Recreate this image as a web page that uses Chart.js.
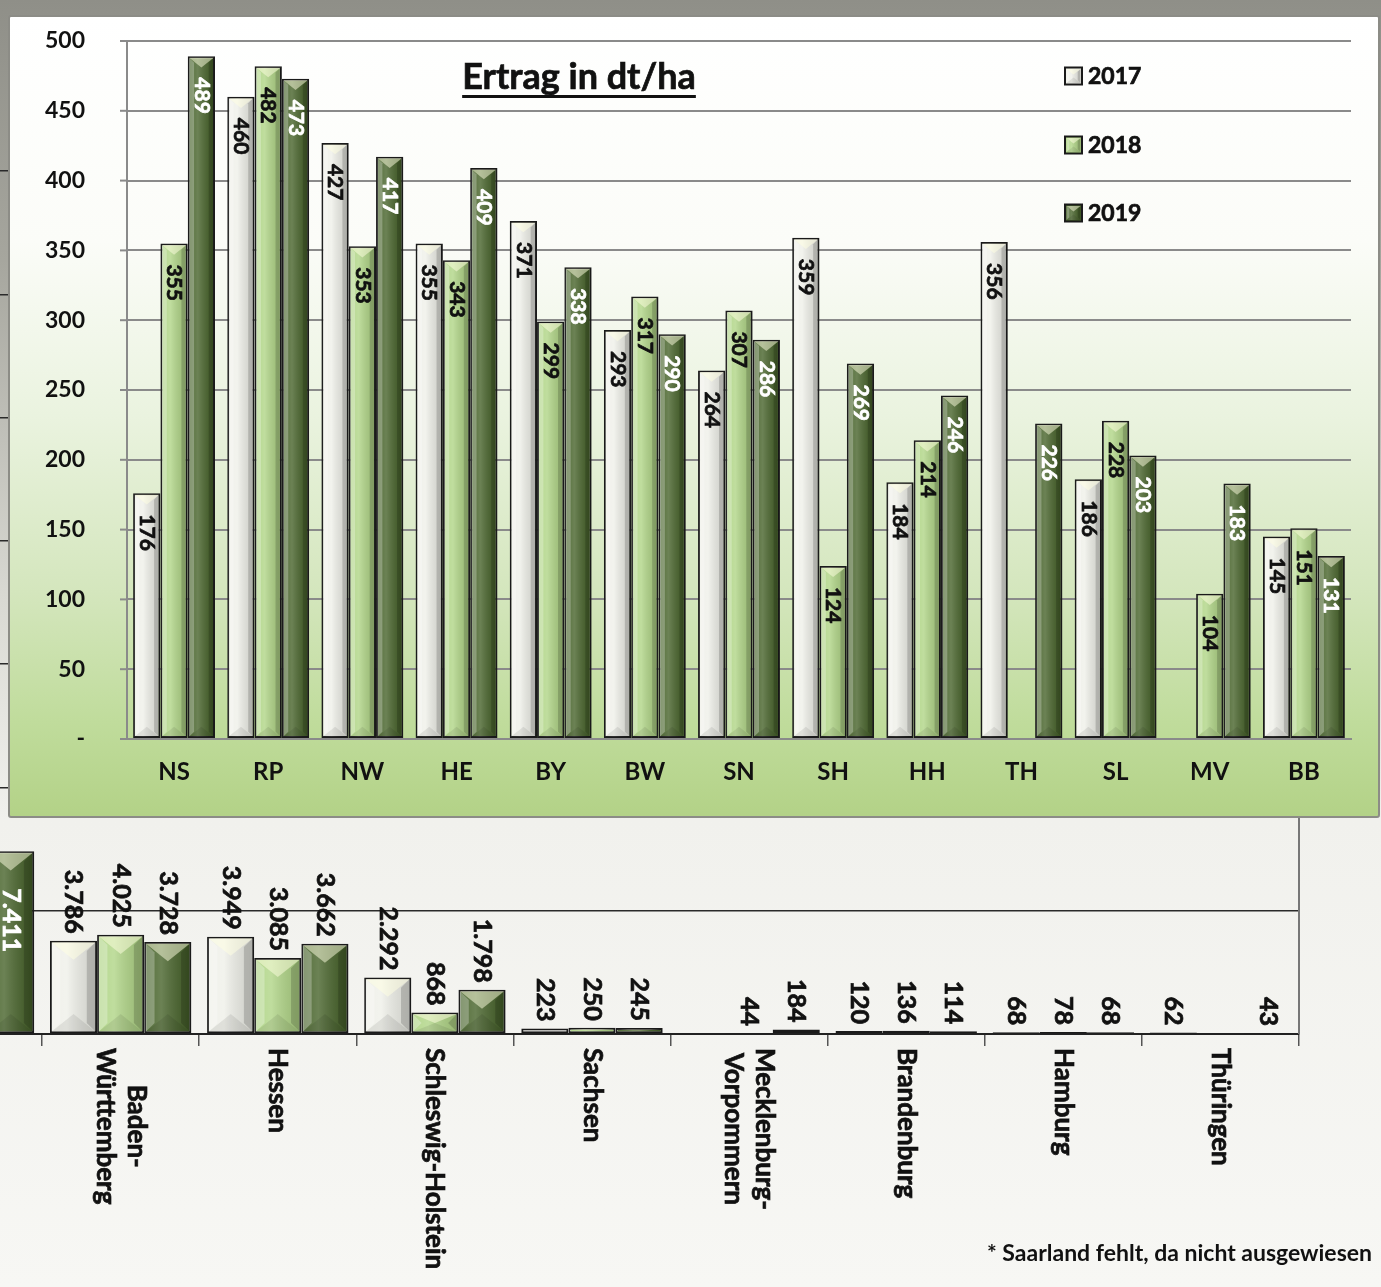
<!DOCTYPE html>
<html>
<head>
<meta charset="utf-8">
<script src="https://cdn.jsdelivr.net/npm/chart.js@4.4.1/dist/chart.umd.min.js"></script>
<style>
  html, body { margin: 0; padding: 0; }
  body {
    width: 1381px; height: 1287px; overflow: hidden; position: relative;
    font-family: Lato, sans-serif;
    background: linear-gradient(to bottom, #8f8f88 0px, #a6a69e 260px, #d9d9d3 600px, #f1f1ed 820px, #f7f7f4 1287px);
  }
  #backWrap { position: absolute; left: -115px; top: 0; width: 1416px; height: 1287px; }
  #mainWrap {
    position: absolute; left: 8px; top: 15px; width: 1372px; height: 803px;
    box-sizing: border-box; border: 2px solid #8c8c86; border-radius: 3px;
    background: linear-gradient(to bottom, #ffffff 0%, #fbfcf8 28%, #eaf3df 50%, #d4e6bd 72%, #c0dc9c 88%, #b3d287 100%);
  }
  #note {
    position: absolute; right: 9px; top: 1238px; line-height: 30px;
    font: bold 23px Lato, sans-serif; color: #111; white-space: nowrap;
  }
</style>
</head>
<body>
<div id="backWrap"><canvas id="back" width="1416" height="1287"></canvas></div>
<div id="mainWrap"><canvas id="main" width="1368" height="799"></canvas></div>
<div id="note">* Saarland fehlt, da nicht ausgewiesen</div>
<script>
// Ertrag in dt/ha (main chart)
var categories = ['NS', 'RP', 'NW', 'HE', 'BY', 'BW', 'SN', 'SH', 'HH', 'TH', 'SL', 'MV', 'BB'];
var years = ['2017', '2018', '2019'];
var ertrag2017 = [176, 460, 427, 355, 371, 293, 264, 359, 184, 356, 186, null, 145];
var ertrag2018 = [355, 482, 353, 343, 299, 317, 307, 124, 214, null, 228, 104, 151];
var ertrag2019 = [489, 473, 417, 409, 338, 290, 286, 269, 246, 226, 203, 183, 131];
var yMax = 500;
var yStep = 50;

// partly hidden chart behind (first category is cut off at the left edge)
var backCategories = ['', ['Baden-', 'Württemberg'], 'Hessen', 'Schleswig-Holstein', 'Sachsen',
  ['Mecklenburg-', 'Vorpommern'], 'Brandenburg', 'Hamburg', 'Thüringen'];
var back2017 = [null, 3786, 3949, 2292, 223, null, 120, 68, 62];
var back2018 = [null, 4025, 3085, 868, 250, 44, 136, 78, null];
var back2019 = [7411, 3728, 3662, 1798, 245, 184, 114, 68, 43];
var backMax = 35000;
var backStep = 5000;

var barColors = ['#eff0e9', '#b0d586', '#47632a'];
var labelColors = ['#111', '#111', '#fff'];
var FONT = 'Lato, sans-serif';

function poly(ctx, pts, fill) {
  ctx.beginPath();
  ctx.moveTo(pts[0][0], pts[0][1]);
  for (var i = 1; i < pts.length; i++) ctx.lineTo(pts[i][0], pts[i][1]);
  ctx.closePath();
  ctx.fillStyle = fill;
  ctx.fill();
}

// bevel look of the bars
function bevel(ctx, x0, x1, y0, y1) {
  var w = x1 - x0, h = y1 - y0;
  if (w <= 2 || h <= 2) return;
  var cx = (x0 + x1) / 2;
  var s = Math.min(w * 0.2, h / 2);
  var t = Math.min(w * 0.4, h / 2);
  var g = ctx.createLinearGradient(x0, 0, x1, 0);
  g.addColorStop(0, 'rgba(255,255,255,0.08)');
  g.addColorStop(0.35, 'rgba(255,255,255,0.2)');
  g.addColorStop(1, 'rgba(0,0,0,0.13)');
  ctx.fillStyle = g;
  ctx.fillRect(x0, y0, w, h);
  poly(ctx, [[x0, y0], [x0 + s, y0 + s], [x0 + s, y1 - s], [x0, y1]], 'rgba(255,255,255,0.28)');
  poly(ctx, [[x1, y0], [x1 - s, y0 + s], [x1 - s, y1 - s], [x1, y1]], 'rgba(0,0,0,0.16)');
  poly(ctx, [[x0, y0], [x1, y0], [cx, y0 + t]], 'rgba(255,255,225,0.5)');
  poly(ctx, [[x0, y1], [x1, y1], [cx, y1 - t]], 'rgba(0,0,0,0.08)');
}

function barBox(bar) {
  var p = bar.getProps(['x', 'y', 'base', 'width'], true);
  return {
    x: p.x,
    x0: p.x - p.width / 2 + 1.5, x1: p.x + p.width / 2 - 1.5,
    y0: Math.min(p.y, p.base) + 1.5, y1: Math.max(p.y, p.base) - 1.5,
    top: p.y
  };
}

function deNum(v) {
  return String(v).replace(/\B(?=(\d{3})+(?!\d))/g, '.');
}

// bold text, slightly heavier
function heavyText(ctx, txt, x, y, color) {
  ctx.fillStyle = color;
  ctx.strokeStyle = color;
  ctx.lineWidth = 0.7;
  ctx.fillText(txt, x, y);
  ctx.strokeText(txt, x, y);
}

var mainDecor = {
  id: 'mainDecor',
  afterDatasetsDraw: function(chart) {
    var ctx = chart.ctx;
    ctx.save();
    chart.data.datasets.forEach(function(ds, di) {
      chart.getDatasetMeta(di).data.forEach(function(bar, i) {
        if (ds.data[i] == null) return;
        var b = barBox(bar);
        bevel(ctx, b.x0, b.x1, b.y0, b.y1);
      });
    });
    ctx.font = 'bold 21px ' + FONT;
    ctx.textAlign = 'left';
    ctx.textBaseline = 'middle';
    chart.data.datasets.forEach(function(ds, di) {
      chart.getDatasetMeta(di).data.forEach(function(bar, i) {
        if (ds.data[i] == null) return;
        var b = barBox(bar);
        ctx.save();
        ctx.translate(b.x, b.top + 21);
        ctx.rotate(Math.PI / 2);
        heavyText(ctx, String(ds.data[i]), 0, 0, labelColors[di]);
        ctx.restore();
      });
    });
    ctx.restore();
  },
  afterDraw: function(chart) {
    var ctx = chart.ctx, ys = chart.scales.y, area = chart.chartArea;
    ctx.save();
    // small tick marks left of the value axis
    ctx.strokeStyle = '#8a8a8a';
    ctx.lineWidth = 2;
    ys.ticks.forEach(function(t) {
      var py = ys.getPixelForValue(t.value);
      ctx.beginPath();
      ctx.moveTo(area.left - 7, py);
      ctx.lineTo(area.left, py);
      ctx.stroke();
    });
    // title
    ctx.font = 'bold 36px ' + FONT;
    ctx.textAlign = 'center';
    ctx.textBaseline = 'alphabetic';
    var title = 'Ertrag in dt/ha';
    var tx = 569, ty = 72;
    heavyText(ctx, title, tx, ty, '#111');
    var tw = ctx.measureText(title).width;
    ctx.fillRect(tx - tw / 2, ty + 6, tw, 3);
    // legend
    ctx.font = 'bold 23px ' + FONT;
    ctx.textAlign = 'left';
    ctx.textBaseline = 'middle';
    var ly = [59, 128, 196];
    chart.data.datasets.forEach(function(ds, di) {
      var mx = 1055, my = ly[di] - 8.5;
      ctx.fillStyle = ds.backgroundColor;
      ctx.fillRect(mx, my, 17, 17);
      bevel(ctx, mx + 1.5, mx + 15.5, my + 1.5, my + 15.5);
      ctx.lineWidth = 2;
      ctx.strokeStyle = '#1a1a1a';
      ctx.strokeRect(mx, my, 17, 17);
      heavyText(ctx, ds.label, 1078, ly[di] + 1, '#111');
    });
    ctx.restore();
  }
};

var backDecor = {
  id: 'backDecor',
  afterDatasetsDraw: function(chart) {
    var ctx = chart.ctx;
    ctx.save();
    chart.data.datasets.forEach(function(ds, di) {
      chart.getDatasetMeta(di).data.forEach(function(bar, i) {
        if (ds.data[i] == null) return;
        var b = barBox(bar);
        bevel(ctx, b.x0, b.x1, b.y0, b.y1);
      });
    });
    ctx.font = 'bold 25px ' + FONT;
    ctx.textBaseline = 'middle';
    chart.data.datasets.forEach(function(ds, di) {
      chart.getDatasetMeta(di).data.forEach(function(bar, i) {
        var v = ds.data[i];
        if (v == null) return;
        var b = barBox(bar);
        ctx.save();
        var col;
        if (v > 6000) {
          ctx.translate(b.x, b.top + 37);
          ctx.rotate(Math.PI / 2);
          ctx.textAlign = 'left';
          col = '#fff';
        } else {
          ctx.translate(b.x, b.top - 7);
          ctx.rotate(Math.PI / 2);
          ctx.textAlign = 'right';
          col = '#111';
        }
        heavyText(ctx, deNum(v), 0, 0, col);
        ctx.restore();
      });
    });
    ctx.restore();
  },
  afterDraw: function(chart) {
    var ctx = chart.ctx, area = chart.chartArea, xs = chart.scales.x;
    ctx.save();
    ctx.strokeStyle = '#777';
    ctx.lineWidth = 2;
    ctx.beginPath();
    ctx.moveTo(area.right, area.top);
    ctx.lineTo(area.right, area.bottom);
    ctx.stroke();
    // category labels, rotated clockwise
    ctx.font = 'bold 26px ' + FONT;
    ctx.textAlign = 'center';
    ctx.textBaseline = 'middle';
    chart.data.labels.forEach(function(lab, i) {
      var lines = Array.isArray(lab) ? lab : [lab];
      var maxW = 0;
      lines.forEach(function(l) { maxW = Math.max(maxW, ctx.measureText(l).width); });
      ctx.save();
      ctx.translate(xs.getPixelForValue(i), 1048);
      ctx.rotate(Math.PI / 2);
      lines.forEach(function(l, k) {
        heavyText(ctx, l, maxW / 2, (k - (lines.length - 1) / 2) * 31, '#111');
      });
      ctx.restore();
    });
    ctx.restore();
  }
};

function makeSets(a, b, c) {
  return [a, b, c].map(function(d, i) {
    return {
      label: years[i],
      data: d,
      backgroundColor: barColors[i],
      borderColor: '#1a1a1a',
      borderWidth: 2,
      borderSkipped: false
    };
  });
}

window.onload = function() {
  // chart in the back
  new Chart(document.getElementById('back').getContext('2d'), {
    type: 'bar',
    data: { labels: backCategories, datasets: makeSets(back2017, back2018, back2019) },
    options: {
      responsive: false,
      animation: false,
      events: [],
      layout: { padding: { top: 171, right: 2, left: 0, bottom: 0 } },
      datasets: { bar: { categoryPercentage: 0.9, barPercentage: 1.0 } },
      plugins: { legend: { display: false }, tooltip: { enabled: false } },
      scales: {
        x: {
          ticks: { display: false },
          grid: { drawOnChartArea: false, drawTicks: true, tickLength: 12, color: '#555', lineWidth: 1.5 },
          border: { color: '#222', width: 2 },
          afterFit: function(s) { s.height = 253; }
        },
        y: {
          min: 0, max: backMax,
          ticks: { display: false, stepSize: backStep },
          grid: { color: '#2a2a2a', lineWidth: 1.5, drawTicks: false },
          border: { display: false },
          afterFit: function(s) { s.width = 0; }
        }
      }
    },
    plugins: [backDecor]
  });

  // main chart
  new Chart(document.getElementById('main').getContext('2d'), {
    type: 'bar',
    data: { labels: categories, datasets: makeSets(ertrag2017, ertrag2018, ertrag2019) },
    options: {
      responsive: false,
      animation: false,
      events: [],
      layout: { padding: { top: 24, right: 27, left: 0, bottom: 0 } },
      datasets: { bar: { categoryPercentage: 0.87, barPercentage: 1.0 } },
      plugins: { legend: { display: false }, tooltip: { enabled: false } },
      scales: {
        x: {
          ticks: { color: '#111', font: { family: FONT, size: 24, weight: 'bold' }, padding: 19 },
          grid: { display: false, drawTicks: false },
          border: { color: '#8a8a8a', width: 2 },
          afterFit: function(s) { s.height = 77; }
        },
        y: {
          min: 0, max: yMax,
          ticks: {
            stepSize: yStep, padding: 6, color: '#111',
            font: { family: FONT, size: 23, weight: 'bold' },
            callback: function(v) { return v === 0 ? '-' : v; }
          },
          grid: { color: '#8a8a8a', lineWidth: 2, tickLength: 36, tickColor: 'rgba(0,0,0,0)' },
          border: { color: '#8a8a8a', width: 2 },
          afterFit: function(s) { s.width = 117; }
        }
      }
    },
    plugins: [mainDecor]
  });
};
</script>
</body>
</html>
